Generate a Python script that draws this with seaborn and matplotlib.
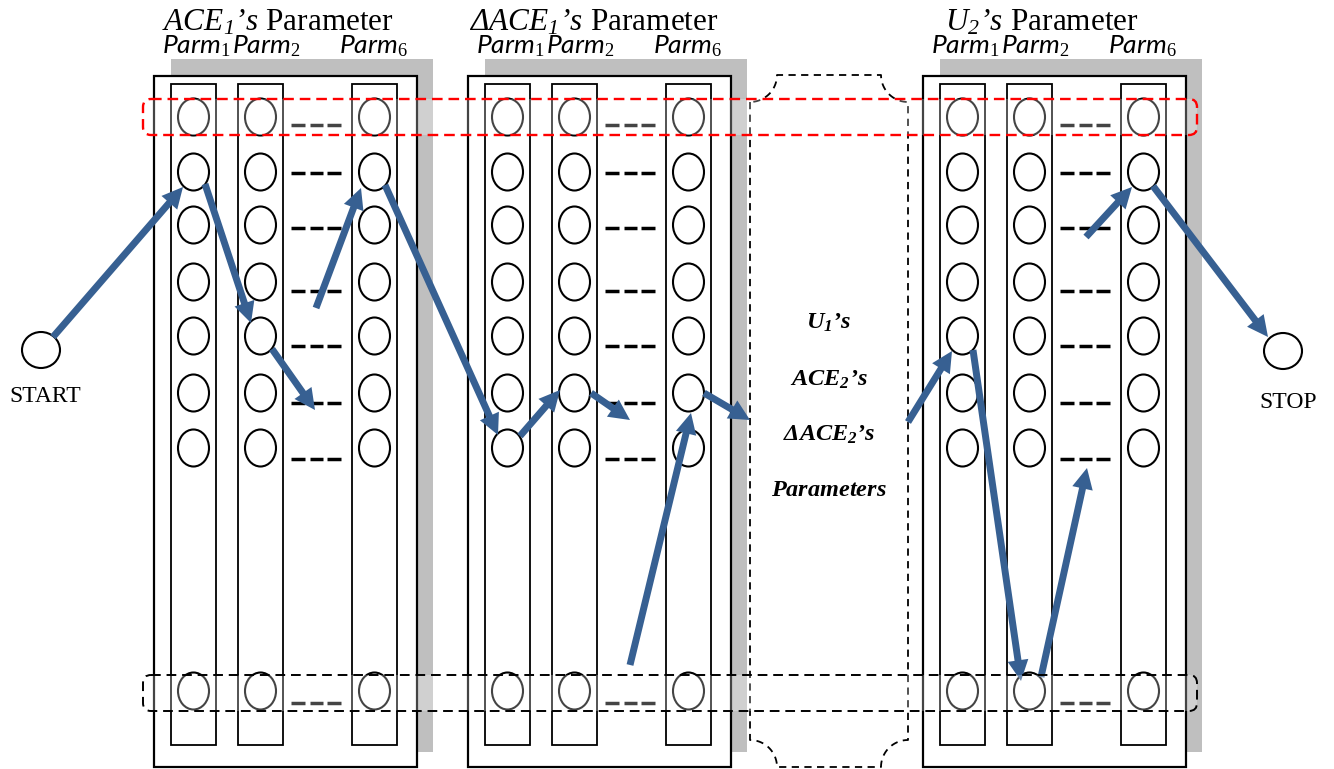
import numpy as np
import pandas as pd
import seaborn as sns
import matplotlib.pyplot as plt
from matplotlib.patches import Rectangle, Ellipse, FancyBboxPatch, FancyArrowPatch, ArrowStyle

# diagram data (pixel coordinates of the original figure, y goes down)
group_offsets = [0, 314, 769]
group_titles = [r"$\mathsf{ACE}_\mathsf{1}\mathsf{’s}\ \mathrm{Parameter}$",
                r"$\mathsf{ΔACE}_\mathsf{1}\mathsf{’s}\ \mathrm{Parameter}$",
                r"$\mathsf{U}_\mathsf{2}\mathsf{’s}\ \mathrm{Parameter}$"]
title_x = [162, 469, 945]
parm_labels = [r"$\mathit{Parm}_\mathit{1}$", r"$\mathit{Parm}_\mathit{2}$", r"$\mathit{Parm}_\mathit{6}$"]
parm_x = [162, 232, 339]
col_left = [171, 238, 352]
row_y = [117, 172, 225, 282, 336, 393, 448, 691]
dash_y = [125, 173, 228, 291, 346, 403, 459, 703]
dash_gray = [True, False, False, False, False, False, False, True]
dash_x = [(291, 305), (310, 323), (327, 341)]

mid_labels = [r"$\mathbf{U}_\mathbf{1}\mathbf{’s}$", r"$\mathbf{ACE}_\mathbf{2}\mathbf{’s}$",
              r"$\mathbf{ΔACE}_\mathbf{2}\mathbf{’s}$", r"$\mathbf{Parameters}$"]
mid_y = [323, 380, 435, 490]

arrow_start = [(53, 337), (205, 184), (272, 349), (316, 308), (385, 185), (520, 436), (591, 393),
               (630, 665), (704, 393), (908, 422), (973, 350), (1041, 677), (1086, 237), (1153, 186)]
arrow_end = [(183, 187), (251, 323), (315, 410), (361, 188), (498, 435), (560, 390), (630, 420),
             (691, 413), (750, 420), (952, 351), (1021, 681), (1087, 468), (1132, 187), (1268, 337)]

blue = '#376092'

sns.set_theme(style="white")
plt.rcParams['mathtext.fontset'] = 'custom'
plt.rcParams['mathtext.rm'] = 'Liberation Serif'
plt.rcParams['mathtext.sf'] = 'Liberation Serif:italic'
plt.rcParams['mathtext.bf'] = 'Liberation Serif:bold:italic'
plt.rcParams['mathtext.it'] = 'Lato:italic'
plt.rcParams['font.family'] = ['Liberation Serif', 'DejaVu Serif']
plt.rcParams['text.color'] = 'black'

fig = plt.figure(figsize=(13.34, 7.69), dpi=100)
ax = fig.add_axes([0, 0, 1, 1])

# short dash segments between column 2 and column 6
rows = []
seg = 0
for off in group_offsets:
    for y, g in zip(dash_y, dash_gray):
        for x0, x1 in dash_x:
            rows.append({'x': x0 + off, 'y': y, 'seg': seg, 'kind': 'gray' if g else 'black'})
            rows.append({'x': x1 + off, 'y': y, 'seg': seg, 'kind': 'gray' if g else 'black'})
            seg += 1
dash_df = pd.DataFrame(rows)
sns.lineplot(data=dash_df, x='x', y='y', units='seg', hue='kind', estimator=None, sort=False,
             palette={'gray': '#000000', 'black': '#000000'}, lw=2.5, legend=False, ax=ax, zorder=4,
             solid_capstyle='butt')

for gi, off in enumerate(group_offsets):
    # shadow, outer box, columns
    ax.add_patch(Rectangle((171 + off, 59), 262, 693, fc='#bfbfbf', ec='none', zorder=1))
    ax.add_patch(Rectangle((154 + off, 76), 263, 691, fc='white', ec='black', lw=1.6, zorder=2))
    for cl in col_left:
        ax.add_patch(Rectangle((cl + off, 84), 45, 661, fc='white', ec='black', lw=1.3, zorder=3))
        for ry in row_y:
            ax.add_patch(Ellipse((cl + off + 22.5, ry), 31, 37, fc='white', ec='black', lw=1.5, zorder=4))
    ax.text(title_x[gi], 30, group_titles[gi], fontsize=22.5, ha='left', va='baseline', zorder=5)
    for lab, px in zip(parm_labels, parm_x):
        ax.text(px + off, 53, lab, fontsize=19, ha='left', va='baseline', zorder=5)

# middle dashed shape with concave corners
r = 27
xl, xr, yt, yb = 750, 908, 75, 767
t = np.linspace(0, np.pi / 2, 20)
pts = [(xl, yt + r), (xl, yb - r)]
pts += [(xl + r * np.sin(a), yb - r * np.cos(a)) for a in t]
pts += [(xr - r, yb)]
pts += [(xr - r * np.cos(a), yb - r * np.sin(a)) for a in t]
pts += [(xr, yt + r)]
pts += [(xr - r * np.sin(a), yt + r * np.cos(a)) for a in t]
pts += [(xl + r, yt)]
pts += [(xl + r * np.cos(a), yt + r * np.sin(a)) for a in t]
xs, ys = zip(*pts)
ax.plot(xs, ys, color='black', lw=1.3, ls=(0, (4, 3)), zorder=5)

for lab, y in zip(mid_labels, mid_y):
    ax.text(829, y, lab, fontsize=17.5, ha='center', va='center', zorder=5)

# start / stop nodes
ax.add_patch(Ellipse((41, 350), 38, 36, fc='white', ec='black', lw=1.5, zorder=4))
ax.add_patch(Ellipse((1283, 351), 38, 36, fc='white', ec='black', lw=1.5, zorder=4))
ax.text(45, 402, 'START', fontsize=17, ha='center', va='baseline')
ax.text(1288, 408, 'STOP', fontsize=17, ha='center', va='baseline')

# arrows
style = ArrowStyle('simple', head_length=15, head_width=15, tail_width=5)
for s, e in zip(arrow_start, arrow_end):
    ax.add_patch(FancyArrowPatch(s, e, arrowstyle=style, mutation_scale=1, color=blue,
                                 shrinkA=0, shrinkB=0, lw=0, zorder=6))

# highlighted bands
ax.add_patch(FancyBboxPatch((143, 99), 1054, 36, boxstyle='round,pad=0,rounding_size=8',
                            fc=(1, 1, 1, 0.27), ec='#ff0000', lw=1.7, ls=(0, (4.5, 2.5)), zorder=7))
ax.add_patch(FancyBboxPatch((143, 675), 1054, 36, boxstyle='round,pad=0,rounding_size=8',
                            fc=(1, 1, 1, 0.27), ec='black', lw=1.4, ls=(0, (5, 3)), zorder=7))

ax.set_xlim(0, 1334)
ax.set_ylim(769, 0)
ax.set_axis_off()
fig.savefig('out.png', dpi=100)
